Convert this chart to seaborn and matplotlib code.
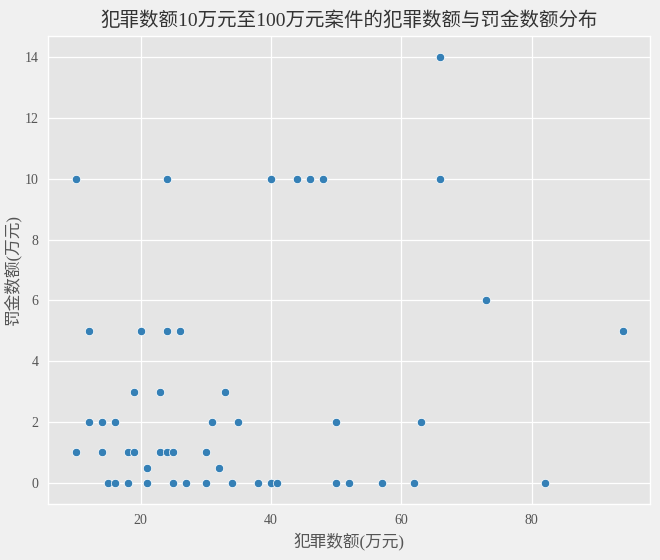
import matplotlib
matplotlib.use("Agg")
import matplotlib.pyplot as plt
import seaborn as sns
import pandas as pd

# 犯罪数额(万元) / 罚金数额(万元)
crime_amount = [
    66,
    10, 24, 40, 44, 46, 48, 66,
    73,
    12, 20, 24, 26, 94,
    19, 23, 33,
    12, 14, 16, 31, 35, 50, 63,
    10, 14, 18, 19, 23, 24, 25, 30,
    21, 32,
    15, 16, 18, 21, 25, 27, 30, 34, 38, 40, 41, 50, 52, 57, 62, 82,
]
fine_amount = [
    14,
    10, 10, 10, 10, 10, 10, 10,
    6,
    5, 5, 5, 5, 5,
    3, 3, 3,
    2, 2, 2, 2, 2, 2, 2,
    1, 1, 1, 1, 1, 1, 1, 1,
    0.5, 0.5,
    0, 0, 0, 0, 0, 0, 0, 0, 0, 0, 0, 0, 0, 0, 0, 0,
]

df = pd.DataFrame({"犯罪数额": crime_amount, "罚金数额": fine_amount})

plt.style.use("ggplot")
plt.rcParams["font.family"] = ["Liberation Serif", "Noto Sans CJK SC", "DejaVu Sans"]
plt.rcParams["axes.unicode_minus"] = False

fig = plt.figure(figsize=(6.6, 5.6), dpi=100, facecolor="#F0F0F0")
ax = fig.add_axes([0.073, 0.1, 0.912, 0.836])
ax.set_facecolor("#E5E5E5")

sns.scatterplot(data=df, x="犯罪数额", y="罚金数额", color="#3580B6",
                s=36, edgecolor="white", linewidth=0.5, ax=ax)

ax.set_title("犯罪数额10万元至100万元案件的犯罪数额与罚金数额分布",
             fontsize=14, color="#333333", pad=7)
ax.set_xlabel("犯罪数额(万元)", fontsize=12, color="#555555")
ax.set_ylabel("罚金数额(万元)", fontsize=12, color="#555555", labelpad=2)
ax.set_xticks([20, 40, 60, 80])
ax.set_yticks([0, 2, 4, 6, 8, 10, 12, 14])
ax.tick_params(length=0, pad=7, labelsize=10, colors="#555555")
ax.grid(True, color="white", linewidth=0.9)

fig.savefig("out.png", dpi=100, facecolor=fig.get_facecolor())
